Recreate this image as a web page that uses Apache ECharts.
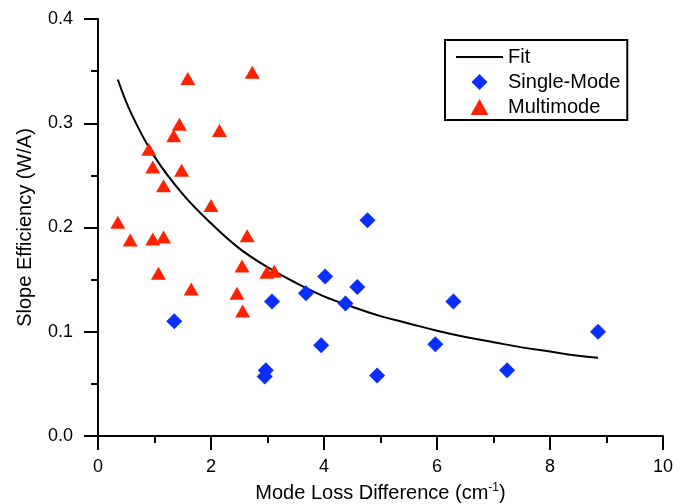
<!DOCTYPE html>
<html>
<head>
<meta charset="utf-8">
<script src="https://cdn.jsdelivr.net/npm/echarts@6/dist/echarts.min.js"></script>
<style>html,body{margin:0;padding:0;background:#fff}#c{width:691px;height:504px}</style>
</head>
<body>
<div id="c"></div>
<script>
// Single-Mode points [mode loss difference, slope efficiency]
var singleX = [1.35, 3.08, 2.97, 2.95, 3.68, 4.02, 3.95, 4.38, 4.59, 4.77, 4.94, 5.97, 6.29, 7.24, 8.85];
var singleY = [0.110, 0.129, 0.063, 0.057, 0.137, 0.153, 0.087, 0.127, 0.143, 0.207, 0.058, 0.088, 0.129, 0.063, 0.100];
// Multimode points
var multiX = [0.35, 0.57, 0.90, 0.97, 0.97, 1.16, 1.16, 1.34, 1.44, 1.48, 1.59, 2.15, 2.00, 2.64, 2.73, 1.07, 1.65, 2.55, 2.46, 2.56, 2.99, 3.12];
var multiY = [0.205, 0.188, 0.275, 0.258, 0.189, 0.191, 0.240, 0.288, 0.299, 0.255, 0.343, 0.293, 0.221, 0.192, 0.349, 0.156, 0.141, 0.163, 0.137, 0.120, 0.157, 0.158];
// Fit curve
var fitX = [0.35, 0.6, 1.0, 1.5, 2.0, 2.5, 3.0, 3.5, 4.0, 4.5, 5.0, 5.5, 6.0, 6.5, 7.0, 7.5, 8.0, 8.5, 8.85];
var fitY = [0.342, 0.308, 0.268, 0.232, 0.204, 0.180, 0.162, 0.147, 0.134, 0.124, 0.115, 0.108, 0.101, 0.095, 0.090, 0.085, 0.081, 0.077, 0.075];
// Tick labels
var xTicks = [0, 2, 4, 6, 8, 10];
var yTicks = ['0.0', '0.1', '0.2', '0.3', '0.4'];

function zip(a, b) { return a.map(function (v, i) { return [v, b[i]]; }); }

var FONT = 'Liberation Sans, Arial, Helvetica, sans-serif';
var chart = echarts.init(document.getElementById('c'), null, { renderer: 'canvas' });
chart.setOption({
  animation: false,
  backgroundColor: '#ffffff',
  textStyle: { fontFamily: FONT, color: '#000' },
  grid: { left: 98, right: 28, top: 19, bottom: 68, containLabel: false, outerBoundsMode: 'none' },
  legend: {
    orient: 'vertical',
    left: 445, top: 40,
    padding: [7, 7, 3, 11],
    itemWidth: 47, itemHeight: 16, itemGap: 5,
    borderColor: '#000', borderWidth: 2,
    symbolKeepAspect: true,
    textStyle: { fontFamily: FONT, fontSize: 20, color: '#000' },
    data: [
      { name: 'Fit', icon: 'path://M0,0L47,0L47,2L0,2Z', itemStyle: { color: '#000' } },
      { name: 'Single-Mode', icon: 'path://M0,-1L1,0L0,1L-1,0Z' },
      { name: 'Multimode', icon: 'path://M0,-1L1,0.8L-1,0.8Z' }
    ]
  },
  xAxis: {
    type: 'value', min: 0, max: 10, interval: 2,
    name: '{a|Mode Loss Difference (cm}{s|-1}{a|)}',
    nameLocation: 'middle', nameGap: 46,
    nameTextStyle: {
      rich: {
        a: { fontFamily: FONT, fontSize: 20, color: '#000' },
        s: { fontFamily: FONT, fontSize: 12, color: '#000', verticalAlign: 'top', padding: [0, 0, 10, 0] }
      }
    },
    axisLine: { show: true, onZero: false, lineStyle: { color: '#000', width: 2 } },
    axisTick: { show: true, inside: false, length: 14, lineStyle: { color: '#000', width: 2 } },
    minorTick: { show: true, splitNumber: 2, length: 7, lineStyle: { color: '#000', width: 2 } },
    axisLabel: { fontFamily: FONT, fontSize: 18, color: '#000', margin: 22,
      formatter: function (v) { return xTicks.indexOf(v) >= 0 ? String(v) : ''; } },
    splitLine: { show: false }
  },
  yAxis: {
    type: 'value', min: 0, max: 0.4, interval: 0.1,
    name: 'Slope Efficiency (W/A)',
    nameLocation: 'middle', nameGap: 63,
    nameTextStyle: { fontFamily: FONT, fontSize: 20, color: '#000' },
    axisLine: { show: true, onZero: false, lineStyle: { color: '#000', width: 2 } },
    axisTick: { show: true, inside: false, length: 14, lineStyle: { color: '#000', width: 2 } },
    minorTick: { show: true, splitNumber: 2, length: 7, lineStyle: { color: '#000', width: 2 } },
    axisLabel: { fontFamily: FONT, fontSize: 18, color: '#000', margin: 25,
      formatter: function (v) { return yTicks[Math.round(v * 10)]; } },
    splitLine: { show: false }
  },
  series: [
    {
      name: 'Fit', type: 'line', data: zip(fitX, fitY), smooth: 0.4,
      showSymbol: false, symbol: 'none',
      lineStyle: { color: '#000', width: 2 }, itemStyle: { color: '#000' }, z: 3
    },
    {
      name: 'Single-Mode', type: 'scatter', data: zip(singleX, singleY),
      symbol: 'diamond', symbolSize: 16,
      itemStyle: { color: '#0a2eff', opacity: 1 }, z: 4
    },
    {
      name: 'Multimode', type: 'scatter', data: zip(multiX, multiY),
      symbol: 'triangle', symbolSize: [15, 13],
      itemStyle: { color: '#ff2200', opacity: 1 }, z: 5
    }
  ]
});
</script>
</body>
</html>
